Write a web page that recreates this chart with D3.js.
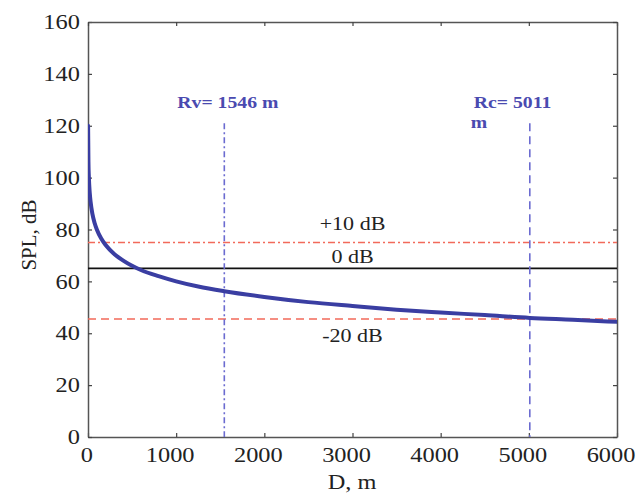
<!DOCTYPE html>
<html>
<head>
<meta charset="utf-8">
<script src="https://cdn.jsdelivr.net/npm/d3@7"></script>
<style>
  body { margin: 0; background: #fff; }
  text { font-family: "Liberation Serif", "Times New Roman", serif; }
</style>
</head>
<body>
<div id="chart"></div>
<script>
// SPL curve: distance (m) vs SPL (dB)
var distance = [1, 5, 10, 20, 30, 50, 75, 100, 150, 200, 300, 400, 500, 600, 800, 1000, 1250, 1546, 2000, 2500, 3000, 3500, 4000, 4500, 5011, 5500, 6000];
var spl = [120, 106, 100, 94, 90.5, 86, 82.5, 80, 76.5, 74, 70.5, 68, 66, 64.4, 62, 60, 58, 56.2, 54, 52, 50.5, 49.1, 48, 47, 45.9, 45.2, 44.4];

// horizontal reference levels
var refLevels = [75, 65, 45.5];
var refLabels = ["+10 dB", "0 dB", "-20 dB"];

// vertical radius markers
var radii = [1546, 5011];
var radiusLabels = ["Rv= 1546 m", "Rc= 5011"];

// ticks
var xTicks = [0, 1000, 2000, 3000, 4000, 5000, 6000];
var yTicks = [0, 20, 40, 60, 80, 100, 120, 140, 160];

var svgWidth = 638, svgHeight = 495;
var margin = { top: 22, right: 21, bottom: 58, left: 88 };
var chartWidth = svgWidth - margin.left - margin.right;
var chartHeight = svgHeight - margin.top - margin.bottom;
var sx = 1.16; // the picture is stretched a little sideways

var svg = d3.select("#chart").append("svg")
  .attr("width", svgWidth)
  .attr("height", svgHeight);

var chartGroup = svg.append("g")
  .attr("transform", `translate(${margin.left}, ${margin.top})`);

var xScale = d3.scaleLinear().domain([0, 6000]).range([0, chartWidth]);
var yScale = d3.scaleLinear().domain([0, 160]).range([chartHeight, 0]);

chartGroup.append("clipPath").attr("id", "clip")
  .append("rect").attr("width", chartWidth).attr("height", chartHeight);

// axes: inward ticks on all four sides, labels only bottom/left
function styleAxis(g) {
  g.select(".domain").attr("stroke", "#555").attr("stroke-width", 1.5);
  g.selectAll(".tick line").attr("stroke", "#444").attr("stroke-width", 1.2);
}

var xAxis = chartGroup.append("g")
  .attr("transform", `translate(0, ${chartHeight})`)
  .call(d3.axisBottom(xScale).tickValues(xTicks).tickSize(-4).tickSizeOuter(0).tickPadding(10).tickFormat(d3.format("d")))
  .call(styleAxis);
// labels in the picture sit a few px left of their ticks
xAxis.selectAll("text")
  .attr("font-size", "21px").attr("fill", "#222")
  .attr("x", d => d == 0 ? -1.5 : -5.6)
  .attr("transform", `scale(${sx},1)`);

var yAxis = chartGroup.append("g")
  .call(d3.axisLeft(yScale).tickValues(yTicks).tickSize(-4).tickSizeOuter(0).tickPadding(7))
  .call(styleAxis);
yAxis.selectAll("text")
  .attr("font-size", "21px").attr("fill", "#222")
  .attr("transform", `scale(${sx},1)`);

chartGroup.append("g")
  .call(d3.axisTop(xScale).tickValues(xTicks).tickSize(-4).tickSizeOuter(0).tickFormat(""))
  .call(styleAxis);

chartGroup.append("g")
  .attr("transform", `translate(${chartWidth}, 0)`)
  .call(d3.axisRight(yScale).tickValues(yTicks).tickSize(-4).tickSizeOuter(0).tickFormat(""))
  .call(styleAxis);

// reference levels
var refColor = ["#f26a5a", "#111", "#f26a5a"];
var refDash = ["7,3,2,3", null, "8,5"];
chartGroup.selectAll(".ref")
  .data(refLevels)
  .enter()
  .append("line")
  .attr("class", "ref")
  .attr("x1", xScale(0))
  .attr("x2", xScale(6000))
  .attr("y1", d => yScale(d))
  .attr("y2", d => yScale(d))
  .attr("stroke", (d, i) => refColor[i])
  .attr("stroke-width", (d, i) => i == 1 ? 1.8 : 1.6)
  .attr("stroke-dasharray", (d, i) => refDash[i]);

// label offsets from their lines
var refLabelDy = [-12, -5, 23];
chartGroup.selectAll(".refText")
  .data(refLevels)
  .enter()
  .append("text")
  .attr("class", "refText")
  .attr("transform", (d, i) => `translate(${xScale(3000)}, ${yScale(d) + refLabelDy[i]}) scale(${sx},1)`)
  .attr("text-anchor", "middle")
  .attr("font-size", "19px")
  .attr("fill", "#222")
  .text((d, i) => refLabels[i]);

// radius markers
var radDash = ["6,3,2,3", "8,5"];
chartGroup.selectAll(".rad")
  .data(radii)
  .enter()
  .append("line")
  .attr("class", "rad")
  .attr("x1", d => xScale(d))
  .attr("x2", d => xScale(d))
  .attr("y1", yScale(121))
  .attr("y2", yScale(0))
  .attr("stroke", "#6b6bd0")
  .attr("stroke-width", 1.6)
  .attr("stroke-dasharray", (d, i) => radDash[i]);

var radLabelDx = [-47, -56];
chartGroup.selectAll(".radText")
  .data(radii)
  .enter()
  .append("text")
  .attr("class", "radText")
  .attr("transform", (d, i) => `translate(${xScale(d) + radLabelDx[i]}, ${108 - margin.top}) scale(${sx},1)`)
  .attr("font-size", "17px")
  .attr("font-weight", "bold")
  .attr("fill", "#4a4ab0")
  .text((d, i) => radiusLabels[i]);

chartGroup.append("text")
  .attr("transform", `translate(${xScale(5011) - 59}, ${128 - margin.top}) scale(${sx},1)`)
  .attr("font-size", "17px")
  .attr("font-weight", "bold")
  .attr("fill", "#4a4ab0")
  .text("m");

// SPL curve
var points = distance.map((d, i) => [d, spl[i]]);
chartGroup.append("path")
  .datum(points)
  .attr("clip-path", "url(#clip)")
  .attr("fill", "none")
  .attr("stroke", "#3a3ea2")
  .attr("stroke-width", 4)
  .attr("stroke-linecap", "round")
  .attr("d", d3.line()
    .x(d => xScale(d[0]))
    .y(d => yScale(d[1]))
    .curve(d3.curveMonotoneX));

// axis labels
chartGroup.append("text")
  .attr("transform", `translate(${chartWidth / 2 - 0.5}, ${chartHeight + 52}) scale(${sx},1)`)
  .attr("text-anchor", "middle")
  .attr("font-size", "21px")
  .attr("fill", "#222")
  .text("D, m");

chartGroup.append("text")
  .attr("transform", `translate(${36 - margin.left}, ${235 - margin.top}) rotate(-90)`)
  .attr("text-anchor", "middle")
  .attr("font-size", "21px")
  .attr("fill", "#222")
  .text("SPL, dB");
</script>
</body>
</html>
